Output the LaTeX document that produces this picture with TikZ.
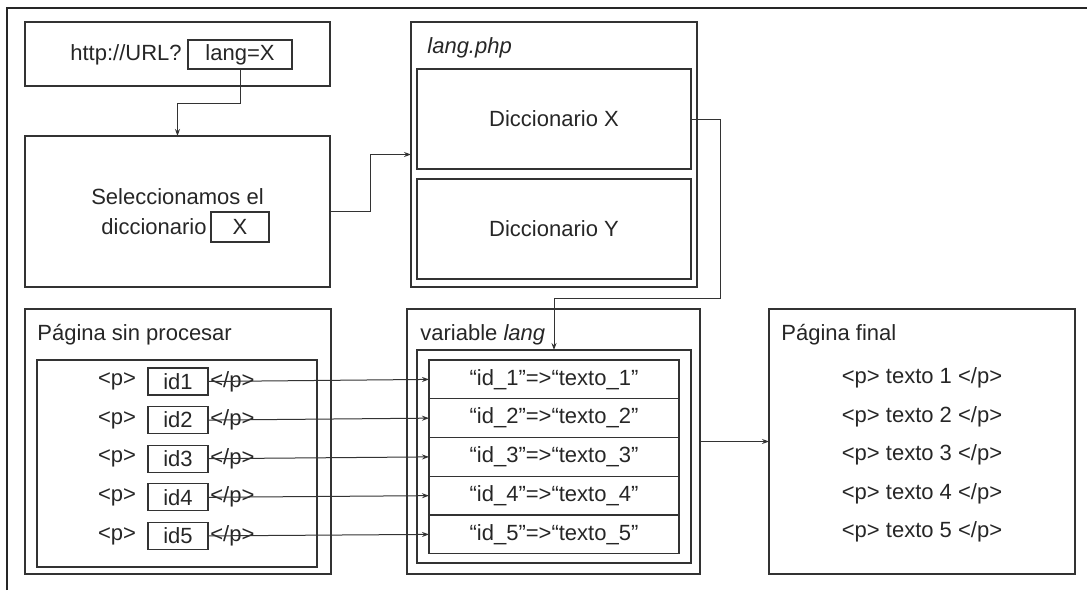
\documentclass[tikz,border=0pt]{standalone}
\usepackage{fontspec}
\setmainfont{Liberation Sans}
\usetikzlibrary{positioning,arrows.meta}

\tikzset{
  box/.style={draw=black!80, line width=0.6pt, inner sep=0pt, outer sep=0pt},
  txt/.style={inner sep=0pt, text=black!85, font=\fontsize{11}{13}\selectfont},
  link/.style={draw=black!80, line width=0.5pt, -{Stealth[length=3.5pt,width=2.5pt]}},
}

\begin{document}
\begin{tikzpicture}[x=0.5pt,y=-0.5pt]
\useasboundingbox (0,0) rectangle (1087,590);
\draw[black!85, line width=0.8pt] (7,590) -- (7,8) -- (1087,8);

% url and choice of dictionary
\node[box, minimum width=152.5pt, minimum height=32pt] (url) at (177.5,54) {};
\node[box, txt, minimum width=52pt, minimum height=14.5pt] (langx) at (240,54.5) {lang=X};
\node[txt, left=3pt of langx] (urltxt) {http://URL?};
\node[box, minimum width=152.5pt, minimum height=75.5pt] (sel) at (177.5,211.5) {};
\node[txt] (seltxt) at (177.5,197) {Seleccionamos el};
\node[box, txt, minimum width=29pt, minimum height=15pt] (selx) at (240,227) {X};
\node[txt, left=2pt of selx] (dictxt) {diccionario};

% lang.php
\node[box, minimum width=143pt, minimum height=132.5pt] (php) at (554,154.5) {};
\node[txt, anchor=west] (phptxt) at (427,48) {\itshape lang.php};
\node[box, txt, minimum width=137pt, minimum height=50pt] (dictx) at (554,119) {Diccionario X};
\node[box, txt, minimum width=137pt, minimum height=50pt] (dicty) at (554,229) {Diccionario Y};

% bottom row
\node[box, minimum width=153pt, minimum height=132.5pt] (raw) at (178,441.5) {};
\node[txt, anchor=west] (rawtxt) at (37,335) {Página sin procesar};
\node[box, minimum width=140pt, minimum height=103.5pt] (rawin) at (177,463.5) {};
\node[box, minimum width=146.5pt, minimum height=132.5pt] (var) at (553.5,441.5) {};
\node[txt, anchor=west] (vartxt) at (420,335) {variable \textit{lang}};
\node[box, minimum width=137pt, minimum height=106.5pt] (varin) at (554,456.5) {};
\node[box, minimum width=153pt, minimum height=132.5pt] (fin) at (922,441.5) {};
\node[txt, anchor=west] (fintxt) at (781,335) {Página final};

\foreach \i in {1,...,5} {
  \pgfmathsetmacro\ya{381.5+38.6*(\i-1)}
  \pgfmathsetmacro\yb{379.4+38.75*(\i-1)}
  \pgfmathsetmacro\yc{378+38.5*(\i-1)}
  \node[box, txt, minimum width=30pt, minimum height=13.5pt] (id\i) at (178,\ya) {id\i};
  \node[txt] (po\i) at (117,\ya) {<p>};
  \node[txt, right=1pt of id\i] (pc\i) {</p>};
  \node[box, txt, minimum width=125pt, minimum height=19.4pt] (en\i) at (554,\yb) {“id\_\i”=>“texto\_\i”};
  \node[txt] (fl\i) at (922,\yc) {<p> texto \i{} </p>};
  \draw[link] (id\i.east) -- (en\i.west);
}

% connectors
\coordinate (turn) at (720,298);
\draw[link] (langx.south) -- ++(0,34) -| (sel.north);
\draw[link] (sel.east) -- ++(40,0) |- (php.west);
\draw[link] (dictx.east) -| (turn) -| (varin.north);
\draw[link] (var.east) -- (fin.west);
\end{tikzpicture}
\end{document}
